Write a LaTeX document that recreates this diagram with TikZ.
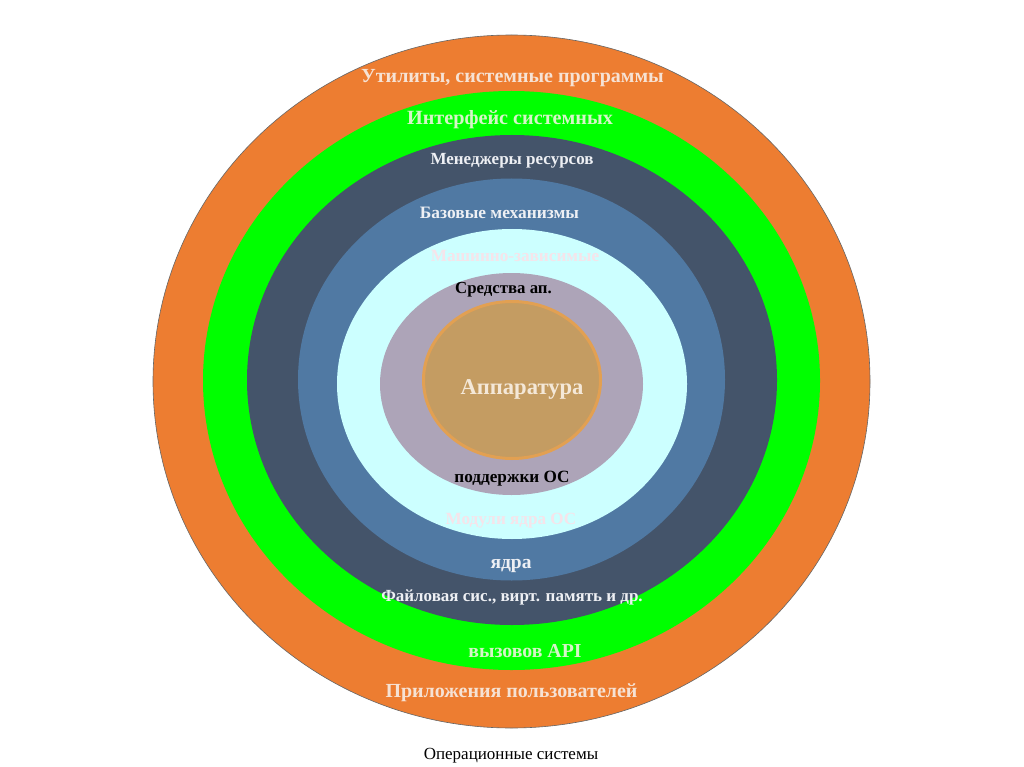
\documentclass[tikz,border=0pt]{standalone}
\usepackage{fontspec}
\setmainfont{Liberation Serif}
\definecolor{cOrange}{HTML}{ED7D31}
\definecolor{cGreen}{HTML}{00FF00}
\definecolor{cDark}{HTML}{44546A}
\definecolor{cSteel}{HTML}{5079A3}
\definecolor{cCyan}{HTML}{CCFFFF}
\definecolor{cMauve}{HTML}{ADA4B8}
\definecolor{cTan}{HTML}{C49C62}
\definecolor{cTanEdge}{HTML}{E2A052}
\definecolor{tPeach}{HTML}{F6E2D4}
\definecolor{tGreen}{HTML}{D6F5C8}
\definecolor{tWhite}{HTML}{EEF0F4}
\definecolor{tPink}{HTML}{F6E4EA}
\definecolor{tCream}{HTML}{F4E8D8}
\tikzset{
  lbl/.style={font=\bfseries\fontsize{#1}{#1}\selectfont, inner sep=0pt},
}
\begin{document}
\begin{tikzpicture}[x=1pt,y=-1pt]
\useasboundingbox[fill=white] (0,0) rectangle (1024,767);
\draw[fill=cOrange, draw=gray!80!black, line width=0.6pt] (511.5,381.5) ellipse [x radius=358.5, y radius=346.5];
\fill[cGreen] (511.5,380.5) ellipse [x radius=308.5, y radius=289.5];
\fill[cDark] (512,380) ellipse [x radius=265, y radius=245];
\fill[cSteel] (511.5,379.5) ellipse [x radius=213.5, y radius=201];
\fill[cCyan] (512,384) ellipse [x radius=175, y radius=155];
\fill[cMauve] (511.5,384) ellipse [x radius=131.5, y radius=111];
\draw[fill=cTan, draw=cTanEdge, line width=3pt] (512,380) ellipse [x radius=88.5, y radius=78.5];

\node[lbl=20, text=tPeach] (util) at (512.5,78) {Утилиты, системные программы};
\node[lbl=20.2, text=tGreen] (intf) at (510,120) {Интерфейс системных};
\node[lbl=17, text=tWhite] (mgr) at (512,161) {Менеджеры ресурсов};
\node[lbl=17.4, text=tWhite] (base) at (499.5,213) {Базовые механизмы};
\node[lbl=17.2, text=tPink] (mach) at (515,256) {Машинно-зависимые};
\node[lbl=16.8, text=black] (sred) at (503.5,290) {Средства ап.};
\node[lbl=22.6, text=tCream] (hw) at (522,389) {Аппаратура};
\node[lbl=17.2, text=black] (podd) at (512,479) {поддержки ОС};
\node[lbl=17.1, text=tPink] (mod) at (511,521) {Модули ядра ОС};
\node[lbl=19.5, text=tWhite] (yadra) at (511,566) {ядра};
\node[lbl=17, text=tWhite] (file) at (512,597) {Файловая сис., вирт. память и др.};
\node[lbl=19.8, text=tGreen] (api) at (525,651) {вызовов API};
\node[lbl=20, text=tPeach] (app) at (511.5,693) {Приложения пользователей};
\node[font=\fontsize{17}{17}\selectfont, inner sep=0pt] (cap) at (511,756) {Операционные системы};
\end{tikzpicture}
\end{document}
